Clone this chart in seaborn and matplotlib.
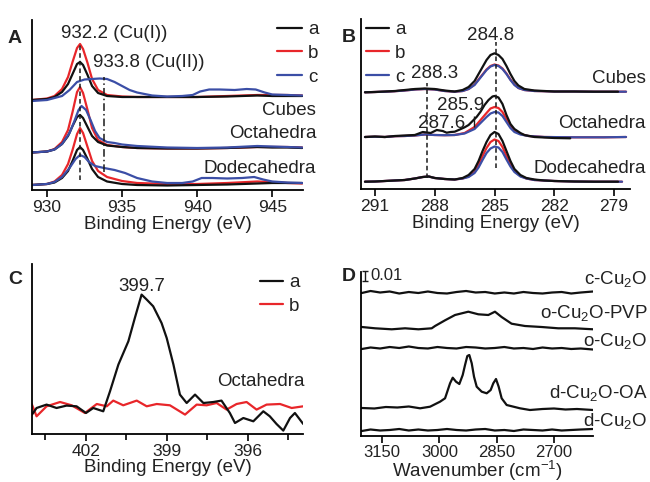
import numpy as np
import pandas as pd
import matplotlib
matplotlib.use("Agg")
import matplotlib.pyplot as plt
import seaborn as sns

# ---------------- Panel A : Cu 2p XPS (stacked, arbitrary intensity) ----------------
a_grid = [929.0, 930.0, 930.5, 931.0, 931.4, 931.7, 932.0, 932.2, 932.4, 932.7, 933.0,
          933.4, 934.0, 935.0, 936.0, 938.0, 940.0, 942.0, 944.0, 945.0, 946.0, 947.0]
a_cub_a = [90, 91, 93, 98, 106, 116, 126, 128, 125, 115, 104, 97, 94, 93, 93, 93, 93, 93.5, 94.5, 94, 94, 94]
a_cub_b = [90, 91.5, 94, 101, 113, 128, 142, 146, 141, 127, 111, 100, 95, 93.5, 93, 93, 93, 94, 95, 95, 95, 94.5]
a_cub_c_x = [929.0, 930, 931, 931.5, 932, 932.5, 933, 933.5, 934, 934.5, 935, 935.5, 936, 937, 938, 939,
             939.7, 940.2, 940.8, 941.5, 942.5, 943.3, 943.9, 944.5, 945, 946, 947]
a_cub_c = [89, 90, 94, 100, 108, 110.5, 111, 111.5, 111, 108, 104, 100, 97.5, 94.5, 93.5, 94,
           95, 98.5, 100.5, 100.5, 100, 101, 100.5, 97.5, 95.5, 95, 94.5]
a_oct_a = [37.5, 38.5, 40.5, 46, 54, 64, 73, 75, 72, 63, 54, 48, 44.5, 43, 42, 41.5, 41.5, 42, 43, 42.5, 42.5, 42]
a_oct_b = [37.5, 38.5, 41, 48, 60, 78, 98, 103, 97, 80, 62, 50, 45, 43, 42, 41.5, 41.5, 42, 43, 43, 43, 42.5]
a_oct_c_x = [929, 930, 930.5, 931, 931.5, 931.8, 932.1, 932.3, 932.6, 932.9, 933.2, 933.5, 934, 934.5,
             935, 936, 938, 940, 942, 944, 945, 946, 947]
a_oct_c = [37.5, 38.5, 40.5, 46, 57, 68, 80, 84, 80, 70, 59, 52, 48, 47, 45.5, 44, 42.5, 42, 42.5, 44, 43.5, 43, 42.5]
a_dod_a = [5, 6, 7.5, 12, 19, 29, 40, 43, 40, 31, 21, 13, 8.5, 6, 5, 4.5, 5, 5.5, 6.5, 7, 7, 7]
a_dod_b = [5, 6, 8.5, 15, 26, 40, 56, 62, 57, 43, 29, 19, 13, 9, 7, 6, 6, 7, 8.5, 8, 7, 6.5]
a_dod_c_x = [929, 930, 930.5, 931, 931.5, 931.9, 932.2, 932.5, 932.8, 933.2, 933.8, 934.5, 935.2, 936,
             937, 938, 939, 939.7, 940.3, 941, 942, 943, 943.8, 944.4, 945, 946, 947]
a_dod_c = [5, 6, 8, 13, 22, 31, 35, 33, 28, 24, 22, 20, 17, 12, 8.5, 7, 7, 8.5, 12, 12, 11.5, 12, 13,
           10.5, 8.5, 7.5, 7]
a_marks = [932.2, 933.8]
a_mark_lo = [10, 18]
a_mark_hi = [146, 113]

# ---------------- Panel B : C 1s XPS ----------------
b_cub_a_x = [291.5, 291.0, 290.5, 290.0, 289.5, 289.0, 288.5, 288.0, 287.5, 287.0, 286.6, 286.3, 286.0,
             285.8, 285.6, 285.4, 285.2, 285.0, 284.8, 284.6, 284.4, 284.2, 284.0, 283.8, 283.5, 283.0,
             282.5, 282.0, 281.0, 280.0, 278.8]
b_cub_a = [96.7, 97, 97.5, 98, 99, 100, 100.5, 100, 98.5, 97.5, 99, 102, 108, 115, 122, 129, 134, 135.7,
           134, 130, 123, 115, 108, 103.5, 100, 98.5, 98, 97.5, 97.5, 97.3, 97.3]
b_cub_bc_x = [291.5, 291.0, 290.5, 290.0, 289.5, 289.0, 288.5, 288.0, 287.5, 287.0, 286.6, 286.3, 286.0,
              285.8, 285.6, 285.4, 285.2, 285.0, 284.8, 284.6, 284.4, 284.2, 284.0, 283.8, 283.5, 283.0,
              282.5, 282.0, 281.0, 280.0, 278.4]
b_cub_b = [96.7, 97, 97.3, 97.8, 98.5, 99.5, 100, 99.5, 98, 97.3, 98, 100, 104.5, 109.5, 114.5, 119.5,
           123, 124.5, 123.5, 120.5, 115.5, 109.5, 104.5, 101, 99, 98, 97.8, 97.5, 97.5, 97.3, 97.3]
b_cub_c = [96.7, 97, 97.3, 97.8, 98.5, 99.5, 100, 99.5, 98, 97.3, 98, 100, 104, 109, 114, 119, 122.5,
           124, 123, 120, 115, 109, 104, 101, 99, 98, 97.8, 97.5, 97.5, 97.3, 97.3]
b_oct_a_x = [291.5, 291.0, 290.5, 290.0, 289.5, 289.0, 288.6, 288.2, 287.9, 287.6, 287.4, 287.2, 287.0,
             286.8, 286.5, 286.3, 286.1, 285.9, 285.7, 285.5, 285.3, 285.1, 285.0, 284.8, 284.6, 284.4,
             284.2, 284.0, 283.7, 283.5, 283.0, 282.5, 282.0, 281.2]
b_oct_a = [52, 52.5, 52, 53, 53.5, 54, 57, 56, 59, 58, 56.3, 57, 57.3, 59, 61.7, 64, 68, 72, 77.3, 84, 89,
           92.5, 93, 91.5, 85, 74, 65, 60, 56, 54, 52, 51.5, 51, 50.7]
b_oct_bc_x = [291.5, 291.0, 290.5, 290.0, 289.5, 289.0, 288.5, 288.0, 287.5, 287.0, 286.5, 286.0, 285.7,
              285.4, 285.2, 285.0, 284.8, 284.6, 284.4, 284.2, 284.0, 283.7, 283.3, 282.5, 281.0, 279.5, 278.4]
b_oct_b = [52, 52.3, 52, 52.8, 53, 53.5, 54.5, 54, 53.8, 54, 56, 62, 69, 76, 80.5, 82, 81, 77, 70, 63,
           58.5, 55, 53, 52, 51.7, 51.7, 52]
b_oct_c = [52, 52.3, 52, 52.8, 53, 53.5, 54.5, 54, 53.8, 54, 55.5, 60, 66, 72, 75.5, 77, 76.5, 73, 67,
           61, 57, 54.5, 53, 52, 51.7, 51.7, 52]
b_dod_a_x = [291.5, 291.0, 290.5, 290.0, 289.5, 289.0, 288.6, 288.3, 288.0, 287.5, 287.0, 286.6, 286.3,
             286.0, 285.8, 285.6, 285.4, 285.2, 285.0, 284.8, 284.6, 284.4, 284.2, 284.0, 283.7, 283.4,
             283.0, 282.5, 282.0, 281.0, 280.0, 278.8]
b_dod_a = [7.3, 7.5, 8, 8.5, 9, 10.5, 12, 12.5, 11, 10, 9.5, 11, 14, 20, 28, 38, 47, 54, 57, 55, 48, 38,
           28, 20, 14, 11, 9.5, 8.5, 8, 7.5, 7.3, 7.3]
b_dod_bc_x = [291.5, 291.0, 290.5, 290.0, 289.5, 289.0, 288.6, 288.3, 288.0, 287.5, 287.0, 286.6, 286.3,
              286.0, 285.8, 285.6, 285.4, 285.2, 285.0, 284.8, 284.6, 284.4, 284.2, 284.0, 283.7, 283.4,
              283.0, 282.5, 282.0, 281.0, 280.0, 278.6]
b_dod_b = [7.3, 7.5, 8, 8.5, 9, 10.5, 12, 12.5, 11, 10, 9.5, 10.5, 12.5, 17, 24, 33, 41, 47, 49.5, 48,
           42, 33, 25, 18, 13, 10.5, 9, 8.5, 8, 7.5, 7.3, 7.3]
b_dod_c = [7.3, 7.5, 8, 8.5, 9, 10.5, 12, 12.5, 11, 10, 9.5, 10.5, 12, 16, 21.5, 29, 36, 40.5, 42.5,
           41.5, 37, 29.5, 22.5, 17, 12.5, 10.5, 9, 8.5, 8, 7.5, 7.3, 7.3]
b_marks = [284.9, 288.4]
b_mark_lo = [21, 11]
b_mark_hi = [147, 106]
b_small_mark = [286.05]
b_small_lo = [62]
b_small_hi = [73]

# ---------------- Panel C : N 1s XPS ----------------
c_a_x = [404.0, 403.83, 403.46, 403.09, 402.72, 402.35, 402.0, 401.73, 401.36, 401.11, 400.8, 400.43,
         400.19, 399.94, 399.75, 399.51, 399.2, 399.01, 398.76, 398.52, 398.27, 397.96, 397.65, 397.28,
         396.98, 396.67, 396.48, 396.17, 395.8, 395.43, 395.19, 394.94, 394.69, 394.44, 394.26, 393.95]
c_a = [19.4, 26, 29.4, 26, 28.4, 27.7, 21, 26, 22.7, 42.7, 69.4, 92.7, 116, 139.4, 134.4, 127.7, 111,
       96, 69.4, 39.4, 31, 39.4, 31, 32, 33.4, 21, 11, 16, 12.7, 22.7, 17.7, 10, 3.4, 16, 21, 10]
c_b_x = [404.01, 403.83, 403.46, 402.96, 402.53, 402.04, 401.6, 401.23, 400.99, 400.62, 400.12, 399.75,
         399.38, 398.89, 398.33, 397.9, 397.53, 397.16, 396.79, 396.42, 396.05, 395.68, 395.31, 394.81,
         394.38, 393.95]
c_b = [30, 17.7, 27.7, 32, 28.7, 21, 30, 27.7, 33.4, 28.7, 33.4, 27.7, 30, 28.7, 19.4, 29.4, 28.7, 31,
       24.4, 30, 32, 24.4, 29.4, 30, 26, 27.7]

# ---------------- Panel D : IR spectra ----------------
d_grid = [3203, 3180, 3155, 3130, 3105, 3080, 3055, 3030, 3005, 2980, 2955, 2930, 2905, 2880, 2855,
          2830, 2805, 2780, 2755, 2730, 2705, 2680, 2655, 2630, 2598]
d_c = [143, 145, 143.5, 144.5, 142.5, 144, 143, 144.5, 143, 142.5, 144, 145, 143.5, 144, 142.5, 143.5,
       142.5, 144, 143, 142.5, 143.5, 144, 142.5, 143.5, 144.5]
d_o = [87, 88.5, 87.5, 89, 88, 89.5, 88, 87.5, 89, 88, 87.5, 89, 88.5, 87.5, 88, 89, 87.5, 88, 87, 88.5,
       87.5, 88, 87, 87.5, 86.5]
d_d = [5, 6.5, 5.5, 6, 7, 5.5, 6.5, 5.5, 6, 7, 6, 5.5, 6.5, 7, 5.5, 6, 5, 6.5, 6, 5.5, 6.5, 5.5, 6, 6.5, 7]
d_pvp_x = [3202.9, 3168.1, 3124.5, 3089.7, 3054.8, 3020.0, 3011.3, 2985.1, 2959.0, 2924.2, 2898.0,
           2871.9, 2854.5, 2837.1, 2811.0, 2776.1, 2732.6, 2689.0, 2645.5, 2597.5]
d_pvp = [109, 107.7, 106.7, 107.7, 106.7, 107.7, 110, 115.7, 121, 124.3, 121.7, 121, 124.3, 119, 112.3,
         110, 109, 107.7, 107.7, 106.7]
d_oa_x = [3203, 3170, 3140, 3110, 3080, 3050.4, 3024.3, 2998.2, 2985.1, 2980.7, 2972, 2965, 2956.4,
          2947.7, 2938.9, 2932.8, 2926.8, 2921.6, 2915.3, 2909.3, 2902.3, 2889.2, 2876.1, 2865.7, 2858.9,
          2851.8, 2844.8, 2837, 2823.9, 2789.1, 2763, 2730, 2700, 2670, 2640, 2598]
d_oa = [28, 27.5, 29, 28.5, 29.5, 27.7, 29.3, 34.3, 37.7, 42.7, 52.7, 58.3, 54.3, 52, 61, 71, 80, 81,
        72.7, 59.3, 49.3, 44.3, 42.7, 46, 52.7, 57, 49.3, 37.7, 31, 27.7, 26, 27, 27.5, 26.5, 27, 26]
d_labels = ["c-Cu$_2$O", "o-Cu$_2$O-PVP", "o-Cu$_2$O", "d-Cu$_2$O-OA", "d-Cu$_2$O"]

# ---------------- style ----------------
sns.set_theme(style="ticks")
TXT = "#222222"
plt.rcParams["font.family"] = ["Liberation Sans", "DejaVu Sans"]
plt.rcParams["mathtext.fontset"] = "custom"
plt.rcParams["mathtext.rm"] = "Liberation Sans"
plt.rcParams["mathtext.it"] = "Liberation Sans:italic"
plt.rcParams["mathtext.bf"] = "Liberation Sans:bold"
plt.rcParams["text.color"] = TXT
plt.rcParams["axes.labelcolor"] = TXT
plt.rcParams["xtick.labelcolor"] = TXT

BLACK, RED, BLUE = "#111111", "#e8262a", "#3b4ea6"
LW = 1.6
FS = 13.5
TFS = 12.5

W, H = 650, 482
fig = plt.figure(figsize=(6.5, 4.82), dpi=100)
fig.patch.set_facecolor("white")


def add_ax(l, r, b, t):
    return fig.add_axes([l / W, 1 - b / H, (r - l) / W, (b - t) / H])


def style(ax, xlabel, pad=2.5, labelpad=0.5, tfs=TFS):
    sns.despine(ax=ax)
    for s in ("left", "bottom"):
        ax.spines[s].set_linewidth(1.3)
        ax.spines[s].set_color("black")
    ax.set_yticks([])
    ax.set_ylabel("")
    ax.tick_params(axis="x", direction="out", length=5, width=1.2, labelsize=tfs, pad=pad, color="black")
    ax.tick_params(axis="x", which="minor", direction="out", length=4, width=1.2, color="black")
    ax.set_xlabel(xlabel, fontsize=FS, labelpad=labelpad)
    ax.set_facecolor("none")


def line(ax, x, y, c, label="_nolegend_"):
    sns.lineplot(x=np.asarray(x), y=np.asarray(y), ax=ax, color=c, lw=LW, sort=False,
                 estimator=None, label=label, legend=False)


def legend(ax, keys, x0, y0, hl):
    h, l = ax.get_legend_handles_labels()
    idx = [l.index(k) for k in keys]
    ax.legend([h[i] for i in idx], list(keys), loc="upper left",
              bbox_to_anchor=(x0 / W, 1 - y0 / H), bbox_transform=fig.transFigure, frameon=False,
              fontsize=FS, handlelength=hl, handletextpad=0.3, labelspacing=0.36, borderpad=0,
              borderaxespad=0)


# ---------- A ----------
axA = add_ax(32, 303, 190, 20)
groups_A = [(a_cub_b, a_cub_a, a_cub_c_x, a_cub_c, True),
            (a_oct_b, a_oct_a, a_oct_c_x, a_oct_c, False),
            (a_dod_b, a_dod_a, a_dod_c_x, a_dod_c, False)]
for yb, ya, xc, yc, lab in groups_A:
    line(axA, a_grid, yb, RED, "b" if lab else "_nolegend_")
    line(axA, a_grid, ya, BLACK, "a" if lab else "_nolegend_")
    line(axA, xc, yc, BLUE, "c" if lab else "_nolegend_")
axA.vlines(a_marks[0], a_mark_lo[0], a_mark_hi[0], colors="k", lw=1.1, linestyles=(0, (3, 2)))
axA.vlines(a_marks[1], a_mark_lo[1], a_mark_hi[1], colors="k", lw=1.1, linestyles=(0, (5, 2, 1, 2)))
axA.set_xlim(929.0, 947.05)
axA.set_ylim(0, 170)
axA.set_xticks([930, 935, 940, 945])
style(axA, "Binding Energy (eV)")
axA.text(934.5, 151.5, "932.2 (Cu(I))", fontsize=FS, ha="center", va="baseline")
axA.text(936.8, 122.5, "933.8 (Cu(II))", fontsize=FS, ha="center", va="baseline")
for txt, yy in [("Cubes", 75), ("Octahedra", 51.7), ("Dodecahedra", 17.3)]:
    axA.text(947.93, yy, txt, fontsize=FS, ha="right", va="baseline", clip_on=False)
legend(axA, ("a", "b", "c"), 277, 21, 1.35)

# ---------- B ----------
axB = add_ax(361, 630, 189, 19)
groups_B = [(b_cub_bc_x, b_cub_b, b_cub_c, b_cub_a_x, b_cub_a, True),
            (b_oct_bc_x, b_oct_b, b_oct_c, b_oct_a_x, b_oct_a, False),
            (b_dod_bc_x, b_dod_b, b_dod_c, b_dod_a_x, b_dod_a, False)]
for xbc, yb, yc, xa, ya, lab in groups_B:
    line(axB, xbc, yb, RED, "b" if lab else "_nolegend_")
    line(axB, xbc, yc, BLUE, "c" if lab else "_nolegend_")
    line(axB, xa, ya, BLACK, "a" if lab else "_nolegend_")
axB.vlines(b_marks, b_mark_lo, b_mark_hi, colors="k", lw=1.1, linestyles=(0, (3, 2)))
axB.vlines(b_small_mark, b_small_lo, b_small_hi, colors="k", lw=1.0)
axB.set_xlim(291.7, 278.2)
axB.set_ylim(0, 170)
axB.set_xticks([291, 288, 285, 282, 279])
style(axB, "Binding Energy (eV)")
axB.text(285.2, 149, "284.8", fontsize=FS, ha="center", va="baseline")
axB.text(288.0, 110.7, "288.3", fontsize=FS, ha="center", va="baseline")
axB.text(286.7, 79, "285.9", fontsize=FS, ha="center", va="baseline")
axB.text(287.65, 60.7, "287.6", fontsize=FS, ha="center", va="baseline")
for txt, yy in [("Cubes", 105.7), ("Octahedra", 60.7), ("Dodecahedra", 15.7)]:
    axB.text(277.4, yy, txt, fontsize=FS, ha="right", va="baseline", clip_on=False)
legend(axB, ("a", "b", "c"), 366, 21, 1.25)

# ---------- C ----------
axC = add_ax(32, 303, 434, 264)
line(axC, c_b_x, c_b, RED, "b")
line(axC, c_a_x, c_a, BLACK, "a")
axC.set_xlim(404.0, 393.96)
axC.set_ylim(0, 170)
axC.set_xticks([402, 399, 396])
axC.set_xticks([403.5, 400.5, 397.5, 394.5], minor=True)
style(axC, "Binding Energy (eV)", pad=2.5, labelpad=-0.5)
axC.text(399.94, 142.7, "399.7", fontsize=FS, ha="center", va="baseline")
axC.text(393.89, 47.7, "Octahedra", fontsize=FS, ha="right", va="baseline", clip_on=False)
legend(axC, ("a", "b"), 260, 274, 1.25)

# ---------- D ----------
axD = add_ax(361, 593, 436, 272)
for xx, yy in [(d_grid, d_c), (d_pvp_x, d_pvp), (d_grid, d_o), (d_oa_x, d_oa), (d_grid, d_d)]:
    line(axD, xx, yy, BLACK)
axD.set_xlim(3205, 2598)
axD.set_ylim(0, 164)
axD.set_xticks([3150, 3000, 2850, 2700])
style(axD, "Wavenumber (cm$^{-1}$)", pad=1.5, labelpad=-0.8, tfs=12)
for txt, yy in zip(d_labels, [151.7, 118.3, 90, 38.3, 10]):
    axD.text(2455, yy, txt, fontsize=FS, ha="right", va="baseline", clip_on=False)
axD.errorbar([3194.5], [160], yerr=[5.2], color="k", lw=1.0, capsize=2.2, capthick=1.0, clip_on=False)
axD.text(3181, 155.5, "0.01", fontsize=12, ha="left", va="baseline", clip_on=False)

# panel letters
for letter, px, py in [("A", 8, 43), ("B", 342, 42), ("C", 8, 284), ("D", 342, 281)]:
    fig.text(px / W, 1 - py / H, letter, fontsize=14, fontweight="bold", ha="left", va="baseline",
             color="#222222")

fig.savefig("out.png", dpi=100, facecolor="white")
